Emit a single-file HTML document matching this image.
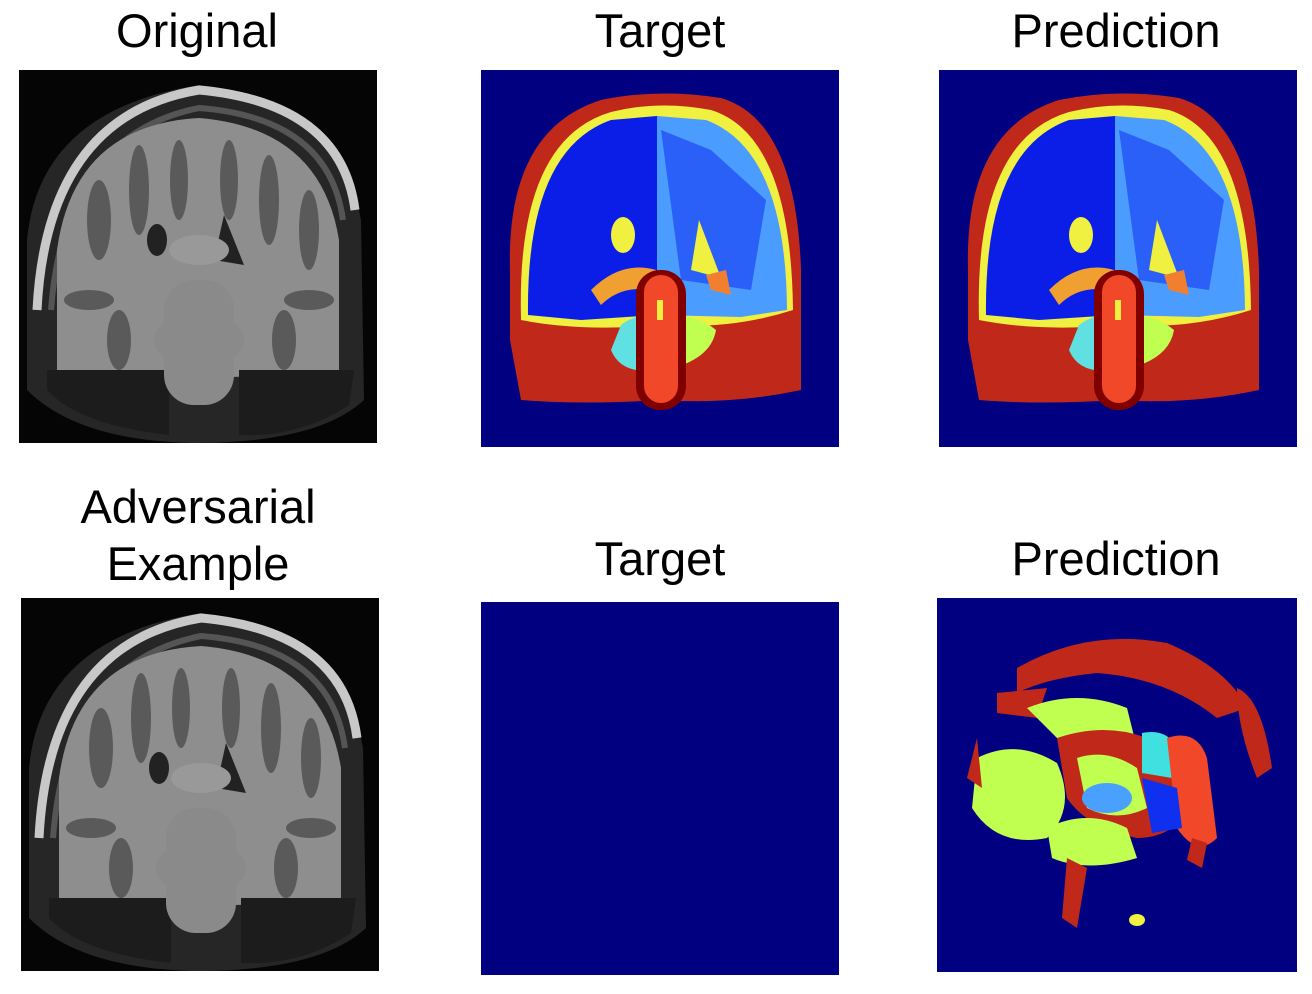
<!DOCTYPE html>
<html><head><meta charset="utf-8"><style>
body{margin:0;background:#fff;width:1312px;height:994px;overflow:hidden}
svg{display:block}
text{font-family:"Liberation Sans",Arial,sans-serif;font-size:47px;fill:#000}
</style></head><body>
<svg width="1312" height="994" viewBox="0 0 1312 994">
<defs>
<clipPath id="mc"><rect x="0" y="0" width="358" height="373"/></clipPath>
<g id="mri">
<g clip-path="url(#mc)">
<rect x="0" y="0" width="358" height="373" fill="#050505"/>
<path d="M8,320 L8,170 Q20,40 180,15 Q320,30 342,150 L345,330 Q300,372 180,373 Q60,372 8,320Z" fill="#262626"/>
<path d="M18,240 Q28,45 180,20 Q322,33 336,140" fill="none" stroke="#c8c8c8" stroke-width="9"/>
<path d="M32,240 Q45,65 180,38 Q310,48 324,150" fill="none" stroke="#555" stroke-width="6"/>
<path d="M38,300 L38,180 Q55,55 180,48 Q302,58 320,170 L320,300 Q180,315 38,300Z" fill="#8e8e8e"/>
<g fill="#5a5a5a">
<ellipse cx="80" cy="150" rx="12" ry="40"/><ellipse cx="120" cy="120" rx="10" ry="45"/><ellipse cx="160" cy="110" rx="9" ry="40"/>
<ellipse cx="210" cy="110" rx="9" ry="40"/><ellipse cx="250" cy="130" rx="10" ry="45"/><ellipse cx="290" cy="160" rx="10" ry="40"/>
<ellipse cx="70" cy="230" rx="25" ry="10"/><ellipse cx="290" cy="230" rx="25" ry="10"/><ellipse cx="100" cy="270" rx="12" ry="30"/><ellipse cx="265" cy="270" rx="12" ry="30"/>
</g>
<ellipse cx="138" cy="170" rx="10" ry="16" fill="#222"/><path d="M205,145 L225,195 L195,190Z" fill="#222"/>
<path d="M28,300 L150,300 L150,365 Q60,355 28,320Z" fill="#1c1c1c"/><path d="M220,300 L335,300 L330,335 Q280,368 220,365Z" fill="#1c1c1c"/>
<rect x="145" y="210" width="70" height="125" rx="30" fill="#8a8a8a"/>
<ellipse cx="180" cy="270" rx="45" ry="28" fill="#8a8a8a"/>
<ellipse cx="180" cy="180" rx="30" ry="15" fill="#999"/>
</g>
</g>
<g id="seg">
<rect width="358" height="377" fill="#000080"/>
<path d="M29,200 Q25,60 120,30 Q178,18 240,28 Q315,50 320,200 L320,320 Q250,335 180,330 Q100,335 40,330 L29,270Z" fill="#c0281a"/>
<path d="M40,250 Q35,70 130,42 Q178,30 230,40 Q310,65 312,240 Q250,260 180,255 Q100,262 40,250Z" fill="#f0f040"/>
<path d="M176,46 L130,50 Q45,80 47,245 L100,250 L176,245Z" fill="#0a1ee8"/>
<path d="M176,46 L225,50 Q305,80 306,240 L260,247 L176,245Z" fill="#4a9cff"/>
<path d="M180,60 L230,80 L285,130 L270,220 L200,210Z" fill="#2a60f8"/>
<ellipse cx="142" cy="165" rx="12" ry="18" fill="#f0f040"/>
<path d="M218,150 L240,208 L210,200Z" fill="#f0f040"/>
<path d="M225,205 L245,200 L250,225 L230,220Z" fill="#f08030"/>
<path d="M110,220 Q140,190 175,200 L170,220 Q140,215 120,235Z" fill="#f0a030"/>
<path d="M140,255 Q160,240 178,250 L176,300 Q140,305 130,280Z" fill="#60e0e0"/>
<path d="M182,250 Q210,240 235,260 Q230,290 184,300Z" fill="#c0ff50"/>
<rect x="155" y="200" width="50" height="140" rx="24" fill="#800000"/>
<rect x="163" y="205" width="34" height="128" rx="17" fill="#f04828"/>
<rect x="176" y="230" width="6" height="20" fill="#f0f040"/>
</g>
</defs>

<text x="197" y="47" text-anchor="middle">Original</text>
<text x="660" y="47" text-anchor="middle">Target</text>
<text x="1116" y="47" text-anchor="middle">Prediction</text>
<text x="198" y="523" text-anchor="middle">Adversarial</text>
<text x="198" y="580" text-anchor="middle">Example</text>
<text x="660" y="575" text-anchor="middle">Target</text>
<text x="1116" y="575" text-anchor="middle">Prediction</text>

<g transform="translate(19,70)"><use href="#mri"/></g>
<g transform="translate(481,70)"><use href="#seg"/></g>
<g transform="translate(939,70)"><use href="#seg"/></g>
<g transform="translate(21,598)"><use href="#mri"/></g>
<rect x="481" y="602" width="358" height="373" fill="#000080"/>
<g transform="translate(937,598)">
<rect width="360" height="374" fill="#000080"/>
<path d="M80,70 Q150,30 230,45 Q290,70 310,110 L280,120 Q230,80 160,75 Q110,80 80,95Z" fill="#c0281a"/>
<path d="M60,95 L110,90 L100,120 L60,115Z" fill="#c0281a"/>
<path d="M90,110 Q140,90 190,110 L200,150 Q150,170 120,140Z" fill="#c0ff50"/>
<path d="M40,160 Q80,140 120,165 Q140,210 110,240 Q60,250 35,210Z" fill="#c0ff50"/>
<path d="M120,140 Q180,120 230,150 L260,200 Q240,240 200,240 Q150,230 130,200Z" fill="#c0281a"/>
<path d="M140,160 Q170,150 200,170 L210,210 Q180,225 150,210Z" fill="#c0ff50"/>
<path d="M205,135 Q230,130 240,150 L235,180 L205,175Z" fill="#40e0e0"/>
<path d="M230,140 Q260,130 270,160 L280,240 Q260,260 240,230 Z" fill="#f04828"/>
<path d="M205,180 L240,190 L245,230 L215,235Z" fill="#1030f0"/>
<path d="M110,230 Q150,210 190,230 L200,260 Q150,275 115,260Z" fill="#c0ff50"/>
<ellipse cx="170" cy="200" rx="25" ry="15" fill="#4aa0ff"/>
<path d="M300,90 Q325,100 335,170 L320,180 Q300,130 300,90Z" fill="#c0281a"/>
<path d="M40,140 L30,180 L45,190Z" fill="#c0281a"/>
<path d="M130,260 L150,270 L140,330 L125,320Z" fill="#c0281a"/>
<ellipse cx="200" cy="322" rx="8" ry="6" fill="#f0f040"/>
<path d="M255,240 L270,245 L265,270 L250,262Z" fill="#c0281a"/>
</g>
</svg>
</body></html>
